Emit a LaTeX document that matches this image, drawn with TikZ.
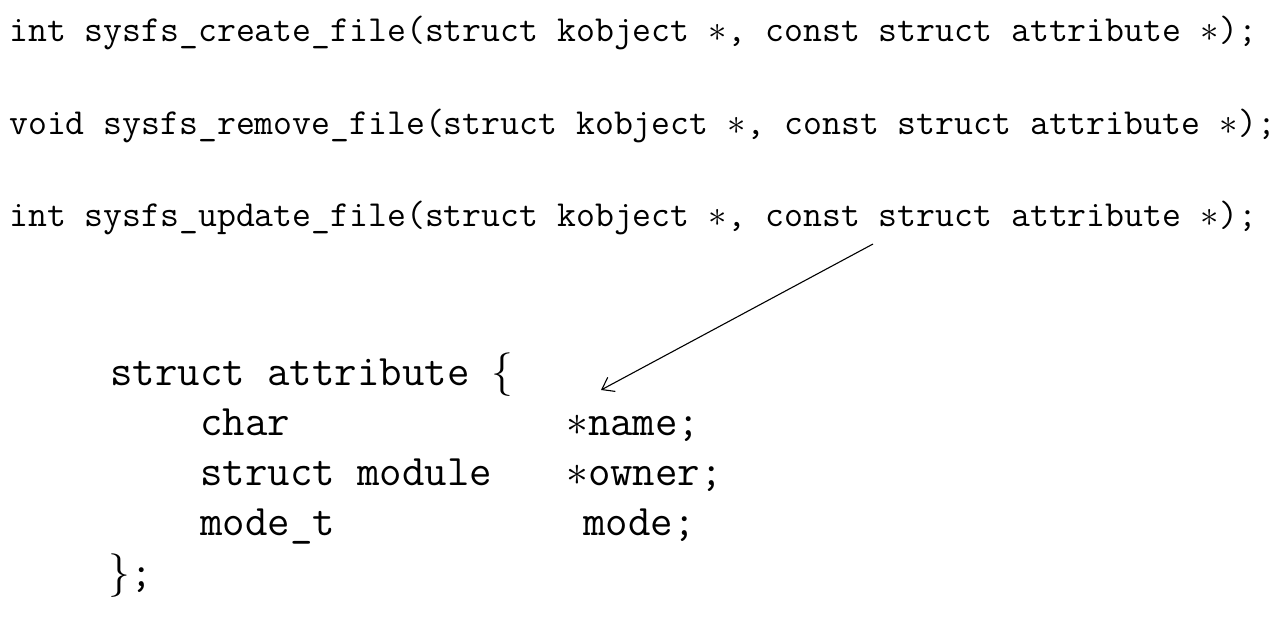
\RequirePackage{fix-cm}
\documentclass[tikz,border=0pt]{standalone}
\usepackage{tikz}
\usetikzlibrary{arrows.meta}
\newcommand{\ptr}{\makebox[0.525em]{$\ast$}}

\begin{document}
\begin{tikzpicture}[x=1pt,y=-1pt,
    every node/.style={inner sep=0pt, anchor=base west},
    proto/.style={font=\ttfamily\fontsize{36.7}{41}\selectfont},
    field/.style={font=\ttfamily\fontsize{43.6}{49}\selectfont}]

\useasboundingbox (0,0) rectangle (1288,616);

\node [proto] (create) at (9,41) {int sysfs\_create\_file(struct kobject \ptr, const struct attribute \ptr);};
\node [proto] (remove) at (9,134) {void sysfs\_remove\_file(struct kobject \ptr, const struct attribute \ptr);};
\node [proto] (update) at (9,226) {int sysfs\_update\_file(struct kobject \ptr, const struct attribute \ptr);};

\node [field] (attr) at (110,385) {struct attribute $\{$};
\node [field] (char) at (200,435) {char};
\node [field] (module) at (200,485) {struct module};
\node [field] (modet) at (200,535) {mode\_t};
\node [field] (name) at (566,435) {$\ast$name;};
\node [field] (owner) at (566,485) {$\ast$owner;};
\node [field] (mode) at (583,535) {mode;};
\node [field] (close) at (108,586) {$\}$;};

\coordinate (from) at (873,244);
\coordinate (to) at (601,390);
\draw [line width=1.1pt, -{Straight Barb[length=11pt,width=16pt]}] (from) -- (to);

\end{tikzpicture}
\end{document}
